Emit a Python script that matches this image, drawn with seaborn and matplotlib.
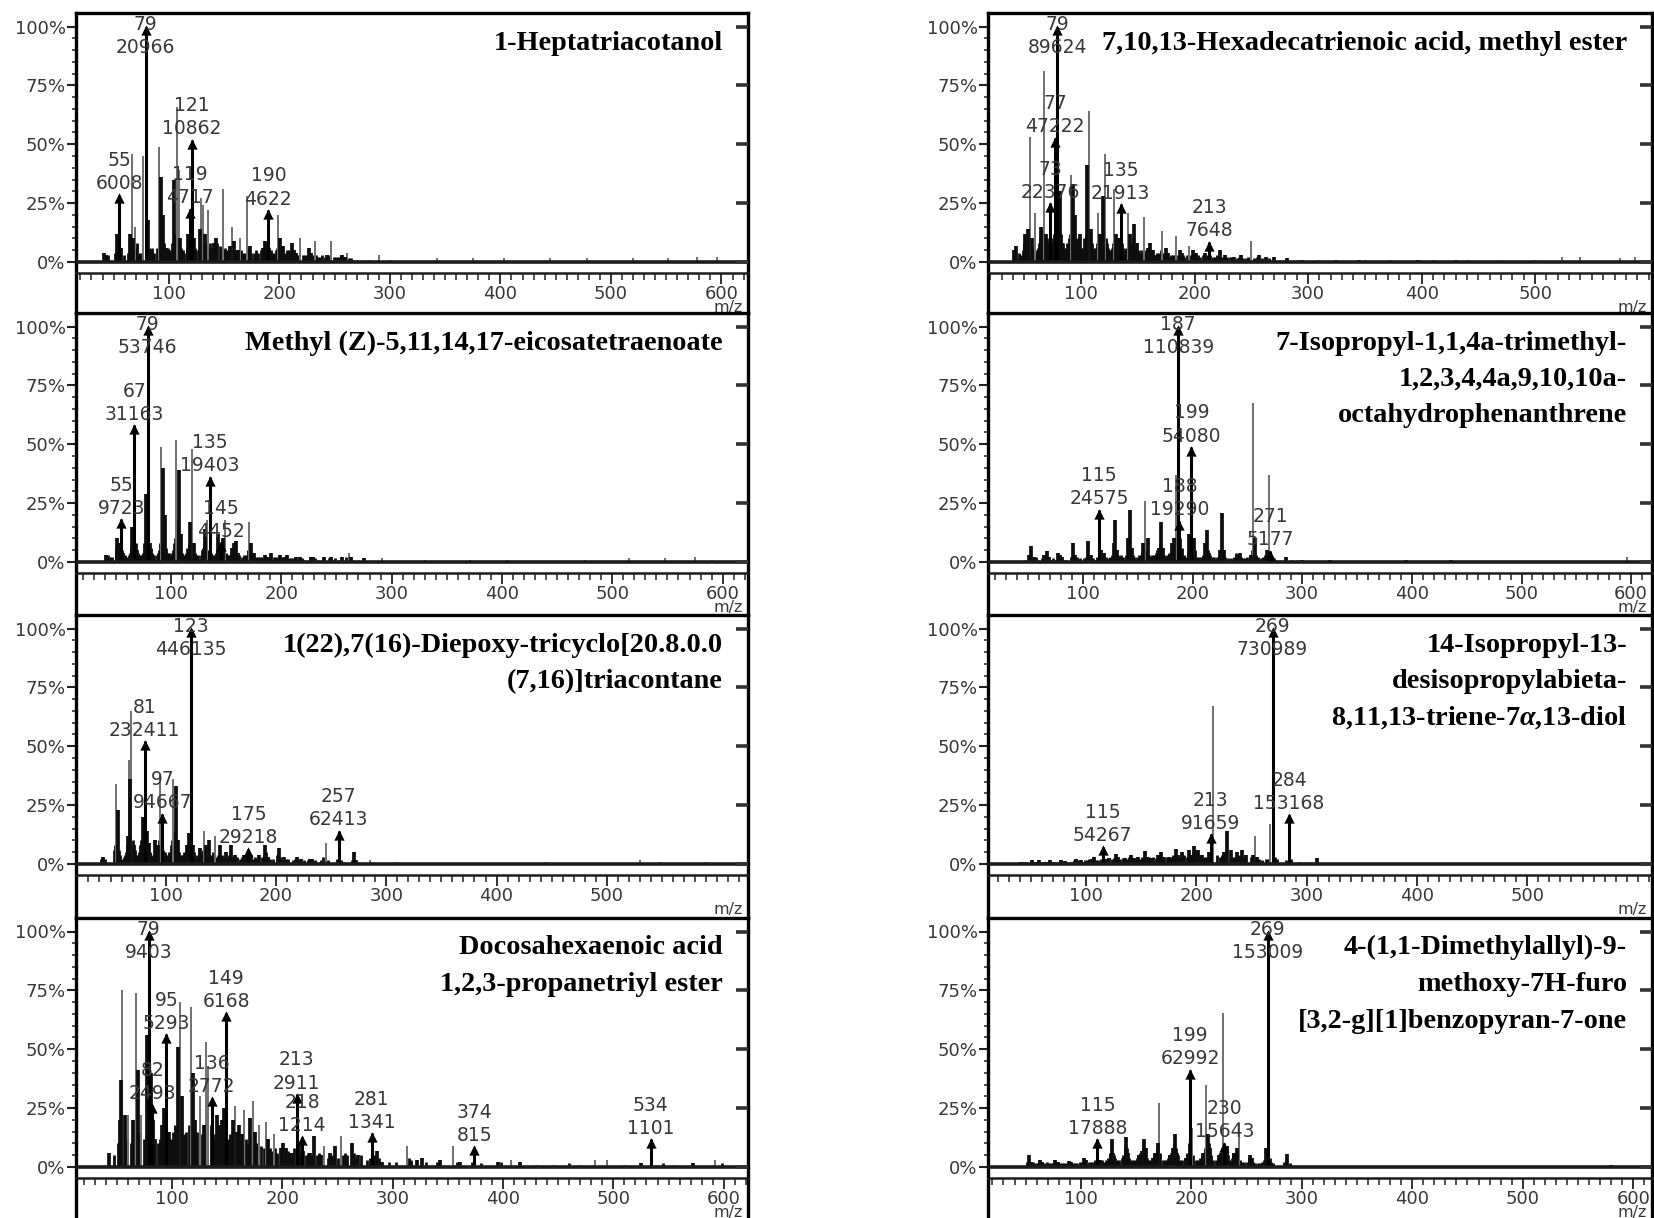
import matplotlib
matplotlib.use("Agg")
import matplotlib.pyplot as plt
import matplotlib.transforms as mtransforms
from matplotlib.ticker import MultipleLocator, FixedLocator
import seaborn as sns

sns.set_theme(style="white")
plt.rcParams["font.family"] = ["DejaVu Sans"]
plt.rcParams["mathtext.fontset"] = "custom"
plt.rcParams["mathtext.rm"] = "Liberation Serif:bold"
plt.rcParams["mathtext.it"] = "Liberation Serif:italic:bold"

# ---------------------------------------------------------------- spectra
# Each compound: single ions (thin lines), clustered ions (heavy lines),
# minor ions along the baseline, and the annotated ions with abundances.

# 1-Heptatriacotanol
hep_thin_mz = [67, 69, 77, 91, 107, 109, 129, 131, 135, 149, 157, 164, 171, 199, 219, 232, 247, 261, 290,
               343, 375, 403, 445, 478, 520, 552, 578, 596]
hep_thin_int = [46, 15, 45, 49, 66, 39, 27, 24, 22, 31, 15, 10, 28, 20, 10, 9, 9, 4, 3,
                1.5, 1.5, 1.5, 1.5, 1.5, 1.5, 1.5, 2, 2]
hep_heavy_mz = [41, 43, 53, 54, 57, 65, 68, 80, 81, 83, 93, 95, 97, 105, 110, 117, 123, 128, 133, 141, 143,
                155, 159, 163, 173, 185, 187, 189, 191, 201, 203, 211, 213, 215, 227, 229, 243, 257, 259]
hep_heavy_int = [4, 3, 12, 8, 6, 12, 10, 10, 18, 5, 36, 20, 6, 35, 10, 12, 10, 14, 12, 8, 10,
                 7, 9, 5, 7, 6, 9, 8, 6, 10, 7, 8, 5, 4, 6, 4, 3, 3, 2]
hep_minor_mz = [45, 51, 59, 63, 70, 71, 73, 75, 82, 84, 85, 87, 89, 94, 96, 98, 99, 101, 102, 103, 104,
                106, 108, 111, 113, 114, 116, 118, 120, 122, 124, 125, 127, 130, 132, 134, 136, 137, 139,
                142, 144, 146, 148, 150, 151, 153, 154, 156, 158, 160, 162, 165, 167, 169, 172, 174, 177,
                179, 181, 183, 186, 188, 192, 193, 195, 197, 198, 200, 202, 205, 207, 209, 212, 214, 216,
                218, 221, 223, 225, 230, 233, 235, 237, 239, 241, 244, 246, 249, 251, 253, 255, 256, 258,
                260, 263, 265, 267, 270, 275, 281, 300]
hep_minor_int = [3, 4, 3, 4, 6, 8, 4, 4, 6, 4, 6, 4, 6, 10, 8, 5, 6, 5, 4, 8, 8,
                 12, 10, 6, 5, 4, 6, 8, 14, 8, 6, 5, 6, 8, 9, 8, 6, 8, 6,
                 5, 8, 7, 6, 5, 6, 5, 4, 6, 5, 5, 4, 5, 4, 4, 6, 4, 4,
                 5, 4, 5, 6, 7, 5, 4, 4, 5, 6, 6, 4, 4, 5, 5, 4, 4, 3,
                 3, 3, 3, 3, 3, 3, 2, 2, 3, 2, 3, 2, 2, 2, 2, 2, 3, 2,
                 2, 1.5, 1.5, 1, 1, 1, 1, 1]
hep_lab_mz = [55, 79, 119, 121, 190]
hep_lab_ab = [6008, 20966, 4717, 10862, 4622]

# Methyl (Z)-5,11,14,17-eicosatetraenoate
eic_thin_mz = [91, 105, 119, 133, 149, 171, 261, 291, 330, 371, 405, 475, 515, 548, 575, 590]
eic_thin_int = [49, 52, 48, 18, 18, 17, 4, 1.5, 1, 1, 1, 1, 1.5, 1.5, 2, 1]
eic_heavy_mz = [41, 51, 53, 57, 65, 69, 77, 80, 81, 93, 95, 107, 109, 117, 121, 131, 143, 147, 155, 157,
                159, 161, 173, 175, 185, 187, 191, 199, 203, 205, 213, 217, 227, 229, 239, 245, 255, 263, 275]
eic_heavy_int = [3, 10, 8, 4, 15, 5, 29, 8, 8, 40, 20, 39, 12, 17, 8, 14, 12, 10, 6, 8,
                 9, 4, 8, 4, 3, 2, 4, 3, 2, 3, 2, 2, 2, 2, 2, 2, 2, 2, 1.5]
eic_minor_mz = [43, 45, 47, 50, 52, 54, 56, 58, 60, 62, 63, 64, 66, 68, 70, 71, 72, 74, 75, 76, 78, 82,
                83, 84, 85, 87, 88, 89, 90, 92, 94, 96, 97, 98, 100, 101, 102, 103, 104, 106, 108, 110,
                111, 113, 114, 115, 116, 118, 120, 122, 123, 125, 127, 128, 129, 130, 132, 134, 136, 137,
                139, 141, 142, 144, 146, 148, 150, 151, 153, 154, 156, 158, 160, 162, 164, 166, 168, 170,
                172, 174, 177, 179, 181, 183, 189, 193, 195, 197, 201, 207, 209, 211, 219, 221, 225, 231,
                233, 237, 243, 247, 249, 252, 259, 265, 270]
eic_minor_int = [3, 2, 2, 6, 4, 8, 5, 3, 2, 3, 4, 6, 10, 8, 4, 3, 3, 3, 4, 8, 20, 6,
                 4, 3, 3, 3, 4, 5, 8, 15, 10, 6, 4, 4, 3, 4, 5, 8, 10, 18, 8, 4,
                 3, 3, 4, 6, 8, 10, 8, 4, 3, 3, 3, 5, 6, 8, 7, 5, 4, 3,
                 3, 4, 5, 8, 6, 5, 4, 3, 3, 3, 4, 5, 4, 3, 2, 3, 3, 5,
                 6, 3, 2, 2, 2, 2, 2, 2, 2, 1.5, 2, 1.5, 1.5, 1.5, 1.5, 1, 1, 1.5,
                 1, 1, 1.5, 1, 1.5, 1, 2, 1, 1]
eic_lab_mz = [55, 67, 79, 135, 145]
eic_lab_ab = [9723, 31163, 53746, 19403, 4452]

# 1(22),7(16)-Diepoxy-tricyclo[20.8.0.0(7,16)]triacontane
dep_thin_mz = [55, 67, 69, 95, 107, 135, 145, 245, 285, 310, 445, 530, 548, 590]
dep_thin_int = [34, 44, 65, 38, 36, 14, 12, 9, 1.5, 1, 1, 1.5, 1, 1]
dep_heavy_mz = [43, 57, 66, 68, 71, 79, 80, 83, 85, 90, 93, 109, 111, 119, 121, 125, 131, 137, 139, 149,
                155, 159, 163, 171, 177, 185, 190, 193, 203, 207, 219, 223, 231, 233, 271, 273]
dep_heavy_int = [3, 23, 12, 36, 8, 20, 10, 14, 9, 10, 8, 33, 10, 8, 13, 8, 7, 8, 10, 8,
                 5, 8, 4, 4, 4, 4, 8, 3, 7, 3, 3, 2, 2, 2, 5, 1.5]
dep_minor_mz = [41, 45, 53, 54, 56, 58, 59, 60, 62, 63, 64, 65, 70, 72, 73, 74, 75, 76, 77, 78, 82, 84,
                86, 87, 88, 89, 91, 92, 94, 96, 98, 99, 100, 101, 102, 103, 104, 105, 106, 108, 110, 112,
                113, 114, 115, 116, 117, 118, 120, 122, 124, 126, 127, 128, 129, 130, 132, 133, 134, 136,
                138, 140, 141, 142, 143, 144, 146, 147, 148, 150, 151, 152, 153, 154, 156, 157, 158, 160,
                161, 162, 164, 165, 167, 169, 173, 176, 179, 181, 183, 187, 189, 191, 192, 195, 197, 201,
                202, 205, 209, 211, 215, 217, 221, 225, 229, 235, 237, 241, 243, 247, 255, 259, 261, 269,
                275, 287]
dep_minor_int = [2, 2, 6, 8, 10, 6, 4, 2, 3, 4, 5, 8, 10, 6, 4, 3, 4, 5, 8, 10, 10, 8,
                 5, 4, 3, 4, 8, 6, 10, 8, 6, 5, 4, 3, 4, 5, 5, 8, 10, 14, 8, 5,
                 4, 3, 4, 4, 5, 5, 8, 10, 6, 5, 4, 3, 4, 5, 4, 5, 6, 5,
                 4, 3, 4, 3, 5, 4, 3, 4, 3, 3, 4, 3, 3, 2, 3, 4, 3, 2,
                 3, 2, 2, 3, 2, 3, 3, 4, 2, 3, 2, 3, 4, 5, 3, 2, 2, 4,
                 5, 3, 2, 2, 1.5, 2, 1.5, 1.5, 1.5, 1.5, 1, 1.5, 3, 1.5, 2, 1.5, 1, 1.5,
                 1, 1]
dep_lab_mz = [81, 97, 123, 175, 257]
dep_lab_ab = [232411, 94667, 446135, 29218, 62413]

# Docosahexaenoic acid 1,2,3-propanetriyl ester
dha_thin_mz = [55, 60, 67, 72, 107, 117, 125, 131, 133, 157, 165, 173, 179, 185, 192, 238, 253, 313, 355,
               407, 483, 494, 592]
dha_thin_int = [75, 22, 74, 22, 70, 68, 30, 53, 43, 26, 24, 28, 18, 19, 14, 9, 13, 9, 9,
                3, 3, 3, 3]
dha_heavy_mz = [43, 53, 54, 57, 65, 69, 77, 80, 81, 83, 85, 91, 93, 97, 105, 109, 119, 121, 129, 141,
                143, 145, 147, 155, 159, 161, 163, 171, 175, 187, 199, 201, 203, 209, 215, 219, 225, 229,
                235, 243, 248, 263, 269, 286, 290, 322, 327, 343, 361, 395, 415, 525, 572]
dha_heavy_int = [6, 20, 37, 22, 20, 41, 56, 35, 40, 20, 12, 18, 25, 15, 51, 30, 40, 20, 18, 22,
                 18, 20, 25, 20, 15, 18, 14, 21, 15, 12, 8, 10, 8, 6, 10, 7, 6, 13,
                 5, 6, 9, 10, 5, 7, 2, 3, 4, 3, 2, 2, 2, 1.5, 1.5]
dha_minor_mz = [47, 51, 59, 63, 71, 75, 87, 89, 99, 101, 103, 111, 113, 115, 123, 127, 135, 137, 139, 151,
                153, 167, 169, 177, 181, 183, 189, 191, 193, 195, 205, 207, 211, 217, 221, 223, 227, 231,
                233, 241, 245, 250, 255, 257, 259, 265, 267, 271, 277, 279, 283, 288, 297, 303, 315, 317,
                330, 340, 358, 372, 380, 398, 430, 445, 460, 470, 510, 545, 555, 598]
dha_minor_int = [5, 10, 12, 10, 15, 12, 10, 12, 12, 15, 18, 14, 15, 18, 15, 14, 18, 12, 14, 12,
                 14, 12, 10, 10, 9, 8, 8, 7, 8, 6, 7, 6, 8, 6, 5, 6, 5, 5,
                 6, 4, 5, 4, 5, 6, 5, 6, 4, 5, 3, 4, 5, 4, 2, 2, 4, 3,
                 2, 2, 2, 2, 1.5, 2, 1, 1, 1.5, 1, 1, 1.5, 1, 1.5]
dha_lab_mz = [79, 82, 95, 136, 149, 213, 218, 281, 374, 534]
dha_lab_ab = [9403, 2493, 5293, 2772, 6168, 2911, 1214, 1341, 815, 1101]

# 7,10,13-Hexadecatrienoic acid, methyl ester
hdt_thin_mz = [55, 59, 67, 91, 107, 115, 121, 129, 141, 155, 171, 184, 195, 250, 524, 540, 575, 588]
hdt_thin_int = [53, 21, 81, 37, 64, 21, 46, 31, 21, 19, 13, 11, 7, 9, 2, 2, 1.5, 2]
hdt_heavy_mz = [41, 43, 51, 53, 57, 65, 69, 71, 80, 81, 83, 93, 95, 99, 105, 109, 117, 119, 131, 133,
                143, 147, 149, 159, 161, 163, 175, 177, 187, 189, 199, 201, 209, 222, 227, 235, 241, 257,
                263, 270, 281, 295, 325, 345, 397, 430]
hdt_heavy_int = [5, 7, 12, 14, 10, 15, 12, 8, 20, 30, 8, 33, 20, 12, 41, 14, 12, 28, 12, 10,
                 12, 16, 8, 6, 8, 5, 6, 4, 5, 4, 5, 4, 4, 5, 3, 2, 3, 3,
                 2, 2, 1.5, 1, 1, 1, 1, 1]
hdt_minor_mz = [45, 47, 48, 49, 50, 52, 54, 56, 58, 60, 61, 62, 63, 64, 66, 68, 70, 72, 74, 75, 76, 78,
                82, 84, 85, 86, 87, 88, 89, 90, 92, 94, 96, 97, 98, 100, 101, 102, 103, 104, 106, 108,
                110, 111, 112, 113, 114, 116, 118, 120, 122, 123, 124, 125, 126, 127, 128, 130, 132, 134,
                136, 137, 138, 139, 140, 142, 144, 145, 146, 148, 150, 151, 152, 153, 154, 156, 157, 158,
                160, 162, 164, 165, 166, 167, 168, 169, 170, 172, 173, 174, 176, 178, 179, 180, 181, 182,
                183, 185, 186, 188, 190, 191, 193, 194, 196, 197, 198, 200, 203, 205, 207, 211, 212, 214,
                216, 218, 220, 224, 226, 229, 231, 233, 237, 239, 243, 245, 247, 252, 255, 259, 261, 266,
                268, 275, 290, 310, 350, 372, 410, 440, 470, 500]
hdt_minor_int = [4, 3, 2, 5, 8, 10, 12, 8, 6, 4, 5, 6, 8, 10, 14, 12, 10, 8, 8, 10, 12, 22,
                 12, 8, 6, 5, 6, 8, 10, 12, 18, 15, 10, 8, 7, 6, 5, 6, 10, 12, 20, 12,
                 8, 6, 5, 6, 8, 8, 10, 14, 10, 8, 6, 5, 5, 6, 8, 8, 6, 10,
                 8, 6, 5, 5, 6, 7, 8, 8, 10, 6, 5, 4, 4, 5, 4, 4, 5, 4,
                 5, 4, 3, 3, 3, 4, 3, 4, 5, 4, 3, 3, 3, 2, 3, 2, 3, 2,
                 3, 3, 2, 2, 3, 2, 3, 2, 2, 3, 2, 2, 3, 2, 3, 3, 2, 3,
                 2, 2, 3, 2, 2, 2, 2, 2, 1.5, 2, 1.5, 1.5, 2, 1.5, 2, 1.5, 1, 1.5,
                 1, 1, 1, 1, 1, 1, 1, 1, 1, 1]
hdt_lab_mz = [73, 77, 79, 135, 213]
hdt_lab_ab = [22376, 47222, 89624, 21913, 7648]

# 7-Isopropyl-1,1,4a-trimethyl-1,2,3,4,4a,9,10,10a-octahydrophenanthrene
ohp_thin_mz = [157, 185, 255, 270, 596]
ohp_thin_int = [26, 37, 67.5, 37, 2]
ohp_heavy_mz = [51, 53, 55, 65, 67, 69, 77, 79, 81, 91, 93, 105, 107, 117, 119, 128, 129, 131, 141, 143,
                145, 155, 159, 169, 171, 173, 181, 183, 197, 201, 211, 213, 215, 225, 227, 229, 241, 243,
                253, 257, 268, 285, 300, 325, 350, 395, 436, 455]
ohp_heavy_int = [3, 6.7, 2, 3, 4.7, 2, 4, 3, 2, 8, 3, 9, 3, 5, 4, 8, 18, 5, 10, 22,
                 6, 8, 10, 6, 17, 6, 8, 10, 12, 10, 8, 13.4, 4, 5, 20.6, 5, 3, 4,
                 3, 10, 5, 2, 1, 0.8, 0.6, 0.8, 0.8, 0.6]
ohp_minor_mz = [47, 57, 59, 63, 71, 73, 75, 83, 85, 89, 95, 97, 101, 103, 109, 111, 113, 114, 116, 118,
                121, 123, 125, 127, 130, 132, 133, 135, 137, 139, 142, 144, 146, 147, 149, 151, 153, 154,
                156, 158, 160, 161, 163, 165, 167, 168, 170, 172, 174, 175, 177, 179, 180, 182, 184, 186,
                189, 190, 192, 194, 196, 198, 200, 202, 204, 206, 208, 210, 212, 214, 216, 218, 220, 222,
                224, 226, 228, 230, 232, 235, 238, 240, 242, 244, 246, 248, 250, 252, 254, 256, 258, 260,
                262, 264, 266, 272, 274, 276, 280, 290, 295]
ohp_minor_int = [1, 2, 1, 1.5, 1, 1.5, 1, 1, 1, 2, 2, 1.5, 1.5, 2, 1.5, 1, 2, 1.5, 3, 2,
                 2, 1.5, 2, 3, 4, 3, 2, 3, 2, 3, 6, 4, 3, 2, 2, 3, 3, 4,
                 7, 5, 3, 2, 3, 3, 4, 5, 8, 6, 3, 2, 3, 4, 5, 8, 10, 12,
                 10, 6, 3, 2, 4, 12, 10, 5, 2, 2, 2, 3, 6, 5, 3, 2, 2, 2,
                 3, 6, 5, 2, 1.5, 1.5, 2, 4, 3, 2, 1.5, 1.5, 2, 3, 5, 6, 3, 2,
                 1.5, 2, 3, 3, 1.5, 1, 1, 1, 1]
ohp_lab_mz = [115, 187, 188, 199, 271]
ohp_lab_ab = [24575, 110839, 19290, 54080, 5177]

# 14-Isopropyl-13-desisopropylabieta-8,11,13-triene-7a,13-diol
abd_thin_mz = [215, 253, 267]
abd_thin_int = [67, 12, 17]
abd_heavy_mz = [41, 43, 51, 55, 57, 63, 67, 69, 77, 79, 81, 91, 95, 105, 107, 119, 121, 127, 129, 135,
                141, 143, 147, 153, 155, 159, 165, 168, 171, 175, 181, 183, 187, 193, 195, 198, 201, 205,
                211, 225, 228, 231, 237, 241, 245, 251, 255, 309]
abd_heavy_int = [1, 1, 1.5, 1, 1.5, 1, 1.5, 1, 1.5, 1, 1.2, 2, 1.5, 2, 3, 2, 2.5, 4.4, 3, 2.5,
                 4, 2.5, 3, 5.6, 3, 2.5, 4, 5, 3, 3, 6.4, 4, 5, 6, 4, 7.8, 6, 4,
                 5, 5, 14, 6, 5, 6, 4, 4, 3, 2.5]
abd_minor_mz = [45, 49, 53, 59, 61, 65, 71, 73, 75, 83, 85, 87, 89, 93, 97, 99, 101, 103, 109, 111,
                113, 117, 123, 125, 131, 133, 137, 139, 145, 149, 151, 157, 161, 163, 167, 169, 173, 177,
                179, 185, 189, 191, 197, 199, 203, 207, 209, 219, 221, 223, 227, 233, 235, 239, 243, 249,
                257, 259, 263, 265, 271, 273, 281, 286, 293, 299]
abd_minor_int = [1, 1, 1, 1, 1, 1, 1, 1, 1, 1, 1, 1, 1.5, 1.5, 1, 1.5, 1.5, 2, 1.5, 1.5,
                 2, 2, 2, 2.5, 2, 2.5, 2, 3, 2.5, 2, 3, 3, 3, 2.5, 4, 3, 3, 3,
                 4, 3, 4, 3, 5, 6, 4, 3, 3, 4, 3, 4, 6, 3, 3, 4, 3, 3,
                 2, 1.5, 2, 2, 3, 2, 1.5, 2, 1, 1]
abd_lab_mz = [115, 213, 269, 284]
abd_lab_ab = [54267, 91659, 730989, 153168]

# 4-(1,1-Dimethylallyl)-9-methoxy-7H-furo[3,2-g][1]benzopyran-7-one
fbp_thin_mz = [171, 201, 213, 229, 243, 270]
fbp_thin_int = [27, 16.5, 35, 65.5, 19, 20]
fbp_heavy_mz = [53, 55, 63, 65, 77, 79, 89, 91, 103, 105, 117, 127, 128, 129, 139, 141, 143, 153, 155, 157,
                159, 165, 167, 170, 181, 183, 185, 187, 195, 197, 211, 215, 217, 225, 227, 232, 239, 241,
                253, 255, 268, 287, 580]
fbp_heavy_int = [5, 2, 3, 2, 3, 2, 2.5, 2, 4, 3, 3, 5, 12, 6, 4, 12.7, 6, 5, 7, 12,
                 8, 4, 6, 10, 5, 8, 14, 6, 4, 5, 6, 14, 8, 5, 6, 9, 6, 8,
                 5, 4, 8, 5.5, 1]
fbp_minor_mz = [51, 57, 59, 61, 67, 69, 71, 73, 75, 81, 83, 85, 87, 93, 95, 97, 99, 101, 107, 109,
                111, 113, 119, 121, 123, 125, 126, 130, 131, 133, 135, 137, 138, 140, 142, 144, 145, 147,
                149, 151, 152, 154, 156, 158, 160, 161, 163, 164, 166, 168, 169, 172, 174, 176, 178, 179,
                180, 182, 184, 186, 188, 190, 192, 194, 196, 198, 200, 202, 204, 206, 208, 210, 212, 214,
                216, 218, 220, 222, 224, 226, 228, 231, 233, 235, 237, 238, 240, 242, 244, 246, 248, 250,
                252, 254, 256, 258, 260, 262, 264, 266, 271, 272, 274, 284, 286, 289]
fbp_minor_int = [2, 2, 1.5, 1.5, 1.5, 2, 1.5, 1.5, 1.5, 1.5, 1.5, 1.5, 1.5, 1.5, 1.5, 1.5, 2, 2, 2, 2,
                 2, 3, 3, 2, 3, 4, 6, 5, 4, 3, 3, 4, 5, 8, 8, 4, 3, 3,
                 3, 4, 5, 6, 8, 6, 4, 3, 3, 4, 5, 6, 8, 6, 3, 3, 3, 4,
                 5, 6, 10, 8, 5, 3, 3, 4, 6, 10, 8, 5, 3, 3, 4, 5, 8, 10,
                 10, 5, 3, 3, 4, 6, 8, 8, 5, 3, 4, 6, 6, 5, 3, 2, 2, 2,
                 4, 3, 2, 1.5, 1.5, 1.5, 2, 3, 4, 2, 1.5, 2, 3, 1.5]
fbp_lab_mz = [115, 199, 230, 269]
fbp_lab_ab = [17888, 62992, 15643, 153009]

# ---------------------------------------------------------------- titles / axes
titles = [
    ["1-Heptatriacotanol"],
    ["Methyl (Z)-5,11,14,17-eicosatetraenoate"],
    ["1(22),7(16)-Diepoxy-tricyclo[20.8.0.0", "(7,16)]triacontane"],
    ["Docosahexaenoic acid", "1,2,3-propanetriyl ester"],
    ["7,10,13-Hexadecatrienoic acid, methyl ester"],
    ["7-Isopropyl-1,1,4a-trimethyl-", "1,2,3,4,4a,9,10,10a-", "octahydrophenanthrene"],
    ["14-Isopropyl-13-", "desisopropylabieta-", r"8,11,13-triene-7$\alpha$,13-diol"],
    ["4-(1,1-Dimethylallyl)-9-", "methoxy-7H-furo", "[3,2-g][1]benzopyran-7-one"],
]
spectra = [
    (hep_thin_mz, hep_thin_int, hep_heavy_mz, hep_heavy_int, hep_minor_mz, hep_minor_int, hep_lab_mz, hep_lab_ab),
    (eic_thin_mz, eic_thin_int, eic_heavy_mz, eic_heavy_int, eic_minor_mz, eic_minor_int, eic_lab_mz, eic_lab_ab),
    (dep_thin_mz, dep_thin_int, dep_heavy_mz, dep_heavy_int, dep_minor_mz, dep_minor_int, dep_lab_mz, dep_lab_ab),
    (dha_thin_mz, dha_thin_int, dha_heavy_mz, dha_heavy_int, dha_minor_mz, dha_minor_int, dha_lab_mz, dha_lab_ab),
    (hdt_thin_mz, hdt_thin_int, hdt_heavy_mz, hdt_heavy_int, hdt_minor_mz, hdt_minor_int, hdt_lab_mz, hdt_lab_ab),
    (ohp_thin_mz, ohp_thin_int, ohp_heavy_mz, ohp_heavy_int, ohp_minor_mz, ohp_minor_int, ohp_lab_mz, ohp_lab_ab),
    (abd_thin_mz, abd_thin_int, abd_heavy_mz, abd_heavy_int, abd_minor_mz, abd_minor_int, abd_lab_mz, abd_lab_ab),
    (fbp_thin_mz, fbp_thin_int, fbp_heavy_mz, fbp_heavy_int, fbp_minor_mz, fbp_minor_int, fbp_lab_mz, fbp_lab_ab),
]
mz_ranges = [(16, 624), (14, 623), (18.7, 628), (13, 622),
             (18, 603), (13.5, 619), (11, 613), (16, 617)]
mz_ticks = [[100, 200, 300, 400, 500, 600], [100, 200, 300, 400, 500, 600],
            [100, 200, 300, 400, 500], [100, 200, 300, 400, 500, 600],
            [100, 200, 300, 400, 500], [100, 200, 300, 400, 500, 600],
            [100, 200, 300, 400, 500], [100, 200, 300, 400, 500, 600]]
pct_ticks = [0, 25, 50, 75, 100]

# ---------------------------------------------------------------- layout (pixels)
W, H = 1654, 1218
col_x = [(76, 748), (988, 1652)]
row_y = [(13, 313), (313, 615), (615, 918), (918, 1221)]
PX_PER_PCT = 2.355
TOP_GAP = 13.5       # px from frame top to 100 %
ZERO_FROM_TOP = 249  # px from frame top to 0 %
TITLE_INSET = 25

fig = plt.figure(figsize=(W / 100, H / 100), dpi=100)
fig.patch.set_facecolor("white")

ink = "#0d0d0d"
grey_txt = "#383838"

for k in range(8):
    col, row = divmod(k, 4)
    x0, x1 = col_x[col]
    y0, y1 = row_y[row]
    wpx, hpx = x1 - x0, y1 - y0
    ax = fig.add_axes([x0 / W, 1 - y1 / H, wpx / W, hpx / H])
    ymax = 100 + TOP_GAP / PX_PER_PCT
    ymin = -(hpx - ZERO_FROM_TOP) / PX_PER_PCT
    ax.set_xlim(*mz_ranges[k])
    ax.set_ylim(ymin, ymax)
    ax.set_facecolor("white")
    ax.grid(False)

    thin_mz, thin_int, heavy_mz, heavy_int, minor_mz, minor_int, lab_mz, lab_ab = spectra[k]
    base = max(lab_ab)
    lab_pct = [a / base * 100 for a in lab_ab]

    ax.vlines(minor_mz, 0, minor_int, color=ink, lw=2.0, zorder=2)
    ax.vlines(thin_mz, 0, thin_int, color="#707070", lw=1.4, zorder=2)
    ax.vlines(heavy_mz, 0, heavy_int, color=ink, lw=2.7, zorder=2)
    ax.vlines(lab_mz, 0, lab_pct, color="black", lw=2.2, zorder=3)
    ax.axhline(0, color="#1c1c1c", lw=2.6, zorder=4)
    sns.scatterplot(x=lab_mz, y=[p - 1.6 for p in lab_pct], marker="^", s=55,
                    color="black", linewidth=0, ax=ax, zorder=5, legend=False)

    for m, a, p in zip(lab_mz, lab_ab, lab_pct):
        ytop = min(p + 14.5, 101.0)
        ax.text(m, ytop, str(m), ha="center", va="center", fontsize=13.5,
                color=grey_txt, zorder=6)
        ax.text(m, ytop - 9.8, str(a), ha="center", va="center", fontsize=13.5,
                color=grey_txt, zorder=6)

    # frame and axes
    for s in ["top", "left", "right"]:
        ax.spines[s].set_visible(True)
        ax.spines[s].set_color("black")
        ax.spines[s].set_linewidth(2.4)
    ax.spines["bottom"].set_visible(True)
    ax.spines["bottom"].set_color("#1c1c1c")
    ax.spines["bottom"].set_linewidth(1.8)
    ax.spines["bottom"].set_position(("data", -4.5))

    ticks = mz_ticks[k]
    ax.set_xticks(ticks)
    ax.set_xticklabels([str(t) for t in ticks])
    ax.xaxis.set_minor_locator(MultipleLocator(10))
    ax.tick_params(axis="x", which="major", direction="out", length=8, width=1.3,
                   pad=1, labelsize=13, labelcolor=grey_txt, color="#222222",
                   bottom=True, top=False)
    ax.tick_params(axis="x", which="minor", direction="out", length=5, width=1.1,
                   color="#222222", bottom=True, top=False)

    ax.set_yticks(pct_ticks)
    ax.set_yticklabels([f"{t}%" for t in pct_ticks])
    ax.yaxis.set_minor_locator(FixedLocator(list(range(0, 101, 5))))
    ax.tick_params(axis="y", which="major", direction="out", length=6.5, width=1.5,
                   pad=1, labelsize=13, labelcolor=grey_txt, color="#222222",
                   left=True, right=False)
    ax.tick_params(axis="y", which="minor", direction="out", length=3, width=1.1,
                   color="#222222", left=True, right=False)

    axr = ax.twinx()
    axr.set_ylim(ymin, ymax)
    axr.set_yticks(pct_ticks)
    axr.tick_params(axis="y", which="major", direction="in", length=9, width=2.6,
                    color="#333333", labelright=False, right=True)
    axr.grid(False)
    for s in axr.spines.values():
        s.set_visible(False)

    trans = mtransforms.blended_transform_factory(ax.transAxes, ax.transData)
    ax.text(1 - 5 / wpx, -19.3, "m/z", transform=trans, ha="right", va="center",
            fontsize=11.5, color=grey_txt)

    for i, line in enumerate(titles[k]):
        ax.text(1 - TITLE_INSET / wpx, 1 - (36.5 + 36.5 * i) / hpx, line,
                transform=ax.transAxes, ha="right", va="baseline", fontsize=20.3,
                fontweight="bold", family="Liberation Serif", color="black", zorder=7)

fig.savefig("out.png", dpi=100, facecolor="white")
